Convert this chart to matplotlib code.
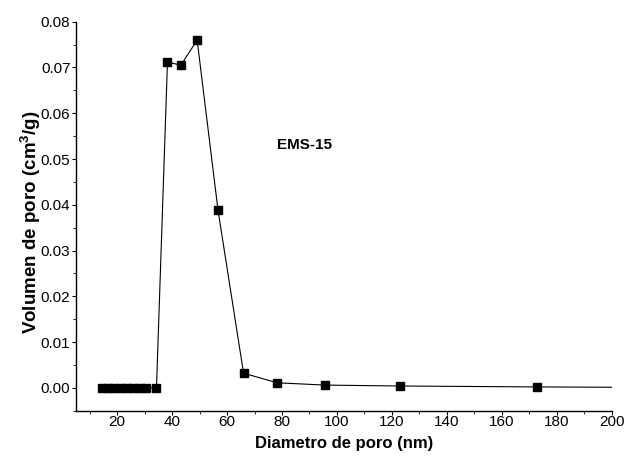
import matplotlib
matplotlib.use('Agg')
import matplotlib.pyplot as plt
from matplotlib.ticker import MultipleLocator, FormatStrFormatter

plt.rcParams['font.family'] = ['Liberation Sans', 'DejaVu Sans']
plt.rcParams['mathtext.fontset'] = 'custom'
plt.rcParams['mathtext.bf'] = 'Liberation Sans:bold'
plt.rcParams['mathtext.rm'] = 'Liberation Sans'

# pore diameter (nm) vs pore volume (cm3/g); last point lies past the axis edge
diametro = [14.4, 16.7, 19.0, 21.3, 23.6, 25.9, 28.2, 30.5, 34.3,
            38.3, 43.2, 49.1, 56.7, 66.0, 78.2, 95.7, 123.0, 172.7, 210.0]
volumen = [0.0, 0.0, 0.0, 0.0, 0.0, 0.0, 0.0, 0.0, 0.0,
           0.0712, 0.0705, 0.0760, 0.0388, 0.0032, 0.0011, 0.0006, 0.0004, 0.0002, 0.0001]

fig = plt.figure(figsize=(6.26, 4.59), dpi=100)
ax = fig.add_axes([0.1214, 0.1052, 0.8557, 0.8475])

ax.plot(diametro, volumen, 'k-', lw=0.8, marker='s', ms=6,
        mfc='black', mec='black', clip_on=True)

ax.set_xlim(5, 200)
ax.set_ylim(-0.005, 0.08)
ax.xaxis.set_major_locator(MultipleLocator(20))
ax.xaxis.set_minor_locator(MultipleLocator(10))
ax.yaxis.set_major_locator(MultipleLocator(0.01))
ax.yaxis.set_minor_locator(MultipleLocator(0.005))
ax.yaxis.set_major_formatter(FormatStrFormatter('%.2f'))
ax.set_xticks([20, 40, 60, 80, 100, 120, 140, 160, 180, 200])

for side in ['top', 'right']:
  ax.spines[side].set_visible(False)
ax.spines['left'].set_linewidth(1.0)
ax.spines['bottom'].set_linewidth(1.0)
ax.tick_params(which='major', direction='out', length=3, width=0.8, labelsize=11, pad=1)
ax.tick_params(axis='x', which='major', pad=0)
ax.tick_params(which='minor', direction='out', length=2, width=0.6)

ax.set_xlabel('Diametro de poro (nm)', fontsize=12, fontweight='bold', labelpad=5)
ax.set_ylabel(r'Volumen de poro (cm$^\mathbf{3}$/g)', fontsize=13.5, fontweight='bold')
ax.yaxis.set_label_coords(-0.062, 0.485)

ax.text(78, 0.053, 'EMS-15', fontsize=11, fontweight='bold', ha='left', va='center')

fig.savefig('out.png', dpi=100)
